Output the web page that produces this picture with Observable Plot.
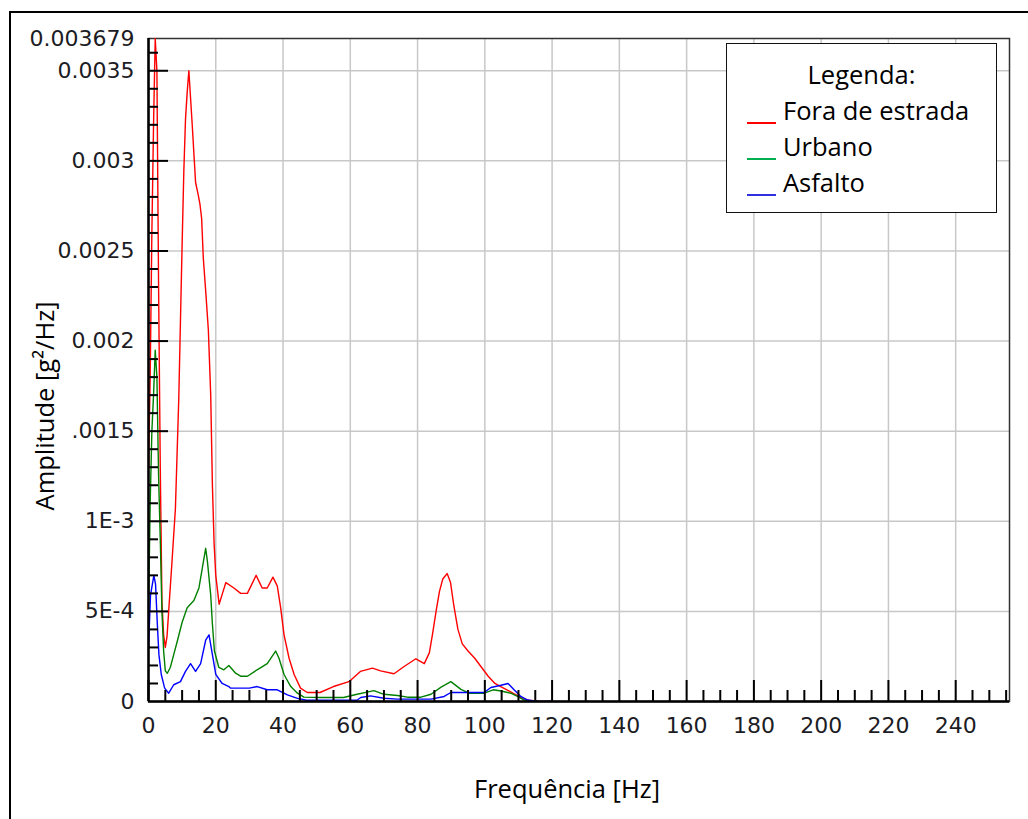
<!DOCTYPE html>
<html><head><meta charset="utf-8">
<script src="https://cdn.jsdelivr.net/npm/d3@7"></script>
<script src="https://cdn.jsdelivr.net/npm/@observablehq/plot@0.6"></script>
<style>
html,body{margin:0;padding:0;background:#fff;}
#wrap{position:relative;width:1028px;height:819px;overflow:hidden;background:#fff;}
#wrap svg{position:absolute;left:0;top:0;}
#outer{position:absolute;left:9px;top:11px;width:1100px;height:900px;border-left:2px solid #000;border-top:2px solid #000;pointer-events:none;}
.title{position:absolute;white-space:nowrap;font-family:'Open Sans',Lato,sans-serif;font-size:25.5px;color:#000;line-height:1;}
#ylab{left:45px;top:406px;transform:translate(-50%,-50%) rotate(-90deg);}
#xlab{left:567px;top:789px;transform:translate(-50%,-50%);}
#legend{position:absolute;left:726px;top:43px;width:269px;height:168px;border:1px solid #111;background:#fff;font-family:'Open Sans',Lato,sans-serif;font-size:25.5px;color:#000;}
#legend .lt{position:absolute;left:0;width:100%;text-align:center;top:31px;transform:translateY(-50%);line-height:1;}
#legend .li{position:absolute;left:56px;transform:translateY(-50%);line-height:1;white-space:nowrap;}
#legend .sw{position:absolute;left:20px;width:29px;height:2px;}
</style>
</head><body>
<div id="wrap"><div id="outer"></div></div>
<script>
// ---------- data ----------
const seriesNames = ["Fora de estrada", "Urbano", "Asfalto"];
const lineColors = ["#ff0000", "#008000", "#0000ff"];
const legendColors = ["#ff0000", "#00b050", "#3030e0"];

const freqRed = [0,0.5,1,1.5,2,2.5,3,3.5,4,4.5,5,5.5,6,7,8,9,9.5,10,10.5,11,11.5,12,12.5,13,13.5,14,14.7,15.3,15.8,16.3,17,17.8,18.5,19,19.5,20,21,22,23,25.4,27.4,29.4,32,33.8,35.3,37,38.3,39.3,40.3,41.8,43.3,45.2,47.2,51,55,59.6,63,66.6,69,73,76,79.5,82,83.5,84.5,85.5,86.5,87.5,88.8,89.8,90.8,92,93.3,95,97,99,101,103,105,107,109,111,113,116,120];
const ampRed = [0.0013,0.0018,0.0026,0.0032,0.003679,0.0035,0.0023,0.0013,0.00055,0.00037,0.0003,0.00036,0.0005,0.00078,0.00107,0.00168,0.00211,0.00254,0.00294,0.00323,0.00338,0.0035,0.00335,0.0032,0.00304,0.00288,0.00282,0.00276,0.00268,0.00246,0.00228,0.00206,0.0017,0.0012,0.00088,0.0007,0.00054,0.0006,0.00066,0.00063,0.0006,0.0006,0.0007,0.00063,0.00063,0.00069,0.00064,0.00052,0.00037,0.00024,0.00015,0.000074,0.00005,0.00005,0.000083,0.00011,0.000167,0.000185,0.00017,0.000154,0.000194,0.000237,0.00021,0.00027,0.00038,0.0005,0.00061,0.00068,0.00071,0.00066,0.00053,0.0004,0.00032,0.00028,0.00024,0.00019,0.00014,0.0001,0.00008,0.00006,0.00004,0.00002,0.000007,0.000002,0];

const freqGreen = [0,0.5,1,1.5,2,2.5,3,3.5,4,4.5,5,5.6,6.5,7.5,8.5,10,11.5,13.5,15,16,17,17.5,18.5,19,19.6,20.9,22.4,23.9,25.9,27.5,29.4,32.3,35.3,37.8,38.8,40.3,42.3,44.3,46.2,51,58,62,65,67,70,74,77,81,84,87,89.9,92.9,95.3,99.8,102.5,104.8,107.7,109.7,111.7,114.6,120];
const ampGreen = [0.0005,0.0011,0.0015,0.0017,0.00195,0.0018,0.00125,0.0009,0.0005,0.00028,0.00017,0.000157,0.00019,0.00026,0.00033,0.00044,0.00052,0.00056,0.00063,0.00074,0.00085,0.00078,0.00059,0.00043,0.00028,0.00019,0.000176,0.0002,0.000157,0.00014,0.00014,0.000176,0.00021,0.00028,0.00024,0.00015,0.000083,0.000046,0.000024,0.000022,0.000022,0.00004,0.000052,0.00006,0.00004,0.000033,0.000024,0.000024,0.00004,0.00008,0.00011,0.000067,0.000046,0.000046,0.000065,0.000058,0.000046,0.000028,0.000008,0,0];

const freqBlue = [0,0.6,1.6,2.1,2.6,3.1,3.8,4.8,6,7.5,9.5,11,12.5,14,15.5,17,18,19,20,21.9,23.9,24.4,30,32.3,35.3,38.3,41.3,44.3,47,62,63.1,66,70,74,84,87.9,89.9,99.8,101.8,104.8,106.9,108.7,110.7,112.7,115.7,120];
const ampBlue = [0.0003,0.00059,0.0007,0.00065,0.00044,0.00026,0.00015,0.000074,0.000046,0.000093,0.00011,0.000167,0.00021,0.000167,0.00021,0.00034,0.00037,0.00026,0.00015,0.0001,0.000083,0.000074,0.000074,0.000083,0.000065,0.000065,0.000037,0.000017,0.000007,0.000007,0.000022,0.000031,0.000018,0.000013,0.000013,0.000028,0.00005,0.00005,0.000078,0.00009,0.0001,0.000065,0.000028,0.000008,0,0];

const xDomain = [0, 256];
const yDomain = [0, 0.003679];
const xMajorTicks = [0,20,40,60,80,100,120,140,160,180,200,220,240];
const xMinorTicks = [5,10,15,25,30,35,45,50,55,65,70,75,85,90,95,105,110,115,125,130,135,145,150,155,165,170,175,185,190,195,205,210,215,225,230,235,245,250,255];
const yTickValues = [0,0.0005,0.001,0.0015,0.002,0.0025,0.003,0.0035,0.003679];
const yTickLabels = ["0","5E-4","1E-3",".0015","0.002","0.0025","0.003","0.0035","0.003679"];
const yMajorTicks = [0.0005,0.001,0.0015,0.002,0.0025,0.003,0.0035];
const yMinorTicks = [0.0001,0.0002,0.0003,0.0004,0.0006,0.0007,0.0008,0.0009,0.0011,0.0012,0.0013,0.0014,0.0016,0.0017,0.0018,0.0019,0.0021,0.0022,0.0023,0.0024,0.0026,0.0027,0.0028,0.0029,0.0031,0.0032,0.0033,0.0034,0.0036];
const yTitle = "Amplitude [g²/Hz]";
const xTitle = "Frequência [Hz]";
const legendTitle = "Legenda:";

// ---------- build ----------
const W = 1028, H = 819, mL = 148, mR = 19, mT = 38, mB = 118;
const frameW = W - mL - mR, frameH = H - mT - mB;
const toRows = (fs, vs) => fs.map((f, i) => ({f, v: vs[i]}));
const series = [toRows(freqRed, ampRed), toRows(freqGreen, ampGreen), toRows(freqBlue, ampBlue)];
const tickFont = "'DejaVu Sans',sans-serif";

const chart = Plot.plot({
  width: W, height: H,
  marginLeft: mL, marginRight: mR, marginTop: mT, marginBottom: mB,
  style: {fontFamily: tickFont, fontSize: "22px", color: "#1c1c24", background: "white"},
  x: {domain: xDomain, axis: null},
  y: {domain: yDomain, axis: null},
  marks: [
    Plot.gridX(xMajorTicks.slice(1), {stroke: "#c8c8c8", strokeOpacity: 1, strokeWidth: 1.5}),
    Plot.gridY(yMajorTicks, {stroke: "#c8c8c8", strokeOpacity: 1, strokeWidth: 1.5}),
    Plot.frame({stroke: "#333", strokeWidth: 1.5}),
    ...series.map((d, i) => Plot.line(d, {x: "f", y: "v", stroke: lineColors[i], strokeWidth: 1.4, clip: true})),
    Plot.tickX(xMajorTicks, {x: d => d, stroke: "#000", strokeWidth: 2, insetTop: frameH - 21}),
    Plot.tickX(xMinorTicks, {x: d => d, stroke: "#000", strokeWidth: 2, insetTop: frameH - 11}),
    Plot.tickY(yMajorTicks, {y: d => d, stroke: "#000", strokeWidth: 2, insetRight: frameW - 20}),
    Plot.tickY(yMinorTicks, {y: d => d, stroke: "#000", strokeWidth: 2, insetRight: frameW - 10}),
    Plot.ruleX([0], {stroke: "#000", strokeWidth: 2.5}),
    Plot.ruleY([0], {stroke: "#000", strokeWidth: 2.5}),
    Plot.axisY({ticks: yTickValues, label: null, tickSize: 0, tickPadding: 14, tickFormat: d => yTickLabels[yTickValues.indexOf(d)], fontSize: 22}),
    Plot.axisX({ticks: xMajorTicks, label: null, tickSize: 0, tickPadding: 16, tickFormat: d => String(d), fontSize: 22})
  ]
});

const wrap = document.getElementById("wrap");
wrap.insertBefore(chart, wrap.firstChild);

const yl = document.createElement("div"); yl.className = "title"; yl.id = "ylab"; yl.textContent = yTitle; wrap.appendChild(yl);
const xl = document.createElement("div"); xl.className = "title"; xl.id = "xlab"; xl.textContent = xTitle; wrap.appendChild(xl);

const lg = document.createElement("div"); lg.id = "legend";
const lt = document.createElement("div"); lt.className = "lt"; lt.textContent = legendTitle; lg.appendChild(lt);
seriesNames.forEach((name, i) => {
  const t = document.createElement("div"); t.className = "li"; t.textContent = name;
  t.style.top = (67 + i * 36) + "px"; lg.appendChild(t);
  const s = document.createElement("div"); s.className = "sw"; s.style.background = legendColors[i];
  s.style.top = (78 + i * 36) + "px"; lg.appendChild(s);
});
wrap.appendChild(lg);
</script>
</body></html>
